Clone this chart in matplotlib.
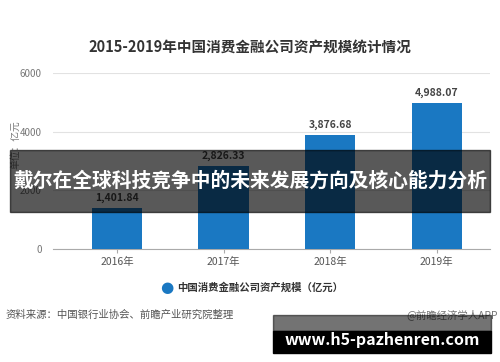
import matplotlib.pyplot as plt
from matplotlib.patches import Rectangle

plt.rcParams['font.family'] = ['Noto Sans CJK SC', 'DejaVu Sans']

years = ['2016年', '2017年', '2018年', '2019年']
values = [1401.84, 2826.33, 3876.68, 4988.07]
yticks = [0, 2000, 4000, 6000]

title = '2015-2019年中国消费金融公司资产规模统计情况'
legend_label = '中国消费金融公司资产规模（亿元）'
source = '资料来源：中国银行业协会、前瞻产业研究院整理'
brand = '@前瞻经济学人APP'
overlay = '戴尔在全球科技竞争中的未来发展方向及核心能力分析'
site = 'www.h5-pazhenren.com'

fig = plt.figure(figsize=(5, 3.62), dpi=100)
ax = fig.add_axes([0.106, 0.312, 0.874, 0.486])

x = range(len(years))
bars = ax.bar(x, values, width=0.47, color='#1a78c2', zorder=3)
for xi, v in zip(x, values):
    ax.text(xi, v + 180, f'{v:,.2f}', ha='center', va='bottom',
            fontsize=7.5, fontweight='bold', color='#444444')

ax.set_xlim(-0.6, 3.5)
ax.set_ylim(0, 6000)
ax.set_yticks(yticks)
ax.set_yticklabels([str(t) for t in yticks], fontsize=7, color='#777777')
ax.set_xticks(list(x))
ax.set_xticklabels(years, fontsize=7.5, color='#555555')
ax.grid(axis='y', color='#e2e2e2', linewidth=0.8, zorder=0)
for s in ['top', 'right', 'left']:
    ax.spines[s].set_visible(False)
ax.spines['bottom'].set_color('#aaaaaa')
ax.tick_params(axis='y', length=0, pad=8)
ax.tick_params(axis='x', length=3, color='#aaaaaa', pad=3)

fig.text(0.5, 0.87, title, ha='center', va='center', fontsize=10.5,
         fontweight='bold', color='#333333')
fig.text(0.03, 0.6, '单位：亿元', rotation=90, ha='center', va='center',
         fontsize=7, color='#777777')

# legend
fig.text(0.334, 0.205, '●', ha='center', va='center', fontsize=11,
         color='#1a78c2', family=['DejaVu Sans'])
fig.text(0.354, 0.205, legend_label, ha='left', va='center', fontsize=7.5,
         fontweight='bold', color='#333333')

fig.text(0.012, 0.132, source, ha='left', va='center', fontsize=7.5, color='#555555')
fig.text(0.995, 0.132, brand, ha='right', va='center', fontsize=7.5, color='#777777')

# dark overlay band with headline
fig.patches.append(Rectangle((0.02, 1 - 212 / 362), 0.96, 62 / 362,
                             transform=fig.transFigure, color='black',
                             alpha=0.65, zorder=10))
fig.text(0.5, 1 - 181 / 362, overlay, ha='center', va='center', fontsize=14.2,
         fontweight='bold', color='white', zorder=11)

# site box
fig.patches.append(Rectangle((273 / 500, 1 - 331 / 362), 218 / 500, 16 / 362,
                             transform=fig.transFigure, color='black',
                             alpha=0.55, zorder=10))
fig.patches.append(Rectangle((273 / 500, 1 - 353 / 362), 218 / 500, 22 / 362,
                             transform=fig.transFigure, color='black', zorder=10))
fig.text(382 / 500, 1 - 340 / 362, site, ha='center', va='center', fontsize=11.5,
         fontweight='bold', color='white', zorder=11)

fig.savefig('out.png', dpi=100)
